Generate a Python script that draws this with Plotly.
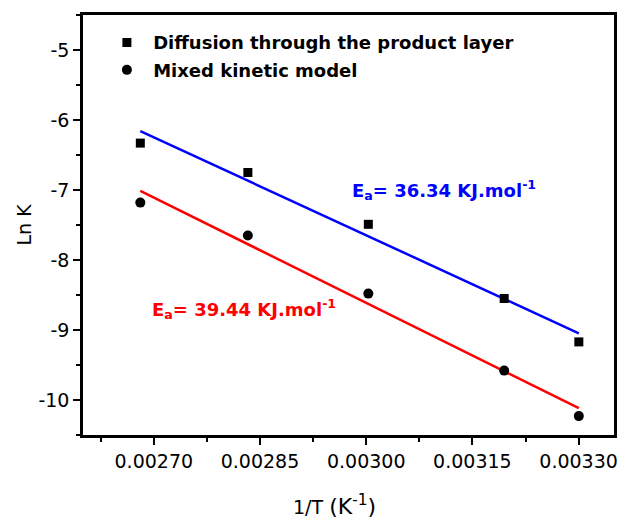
import numpy as np
import plotly.graph_objects as go

# Data
inv_T = [1/373, 1/353, 1/333, 1/313, 1/303]
lnk_diffusion = [-6.33, -6.75, -7.49, -8.55, -9.17]
lnk_mixed = [-7.18, -7.65, -8.48, -9.58, -10.23]
series_names = ["Diffusion through the product layer", "Mixed kinetic model"]
ea_labels = ["E<sub>a</sub>= 36.34 KJ.mol<sup>-1</sup>", "E<sub>a</sub>= 39.44 KJ.mol<sup>-1</sup>"]
x_ticks = [0.00270, 0.00285, 0.00300, 0.00315, 0.00330]
x_ticklabels = ["0.00270", "0.00285", "0.00300", "0.00315", "0.00330"]
y_ticks = [-5, -6, -7, -8, -9, -10]
y_ticklabels = ["-5", "-6", "-7", "-8", "-9", "-10"]

x_arr = np.array(inv_T)
fit_d = np.polyfit(x_arr, lnk_diffusion, 1)
fit_m = np.polyfit(x_arr, lnk_mixed, 1)
fx = np.array([x_arr.min(), x_arr.max()])

FONT = "DejaVu Sans"
fig = go.Figure()
fig.add_trace(go.Scatter(x=fx, y=np.polyval(fit_d, fx), mode="lines",
                         line=dict(color="#0000ff", width=2.5), showlegend=False, hoverinfo="skip"))
fig.add_trace(go.Scatter(x=fx, y=np.polyval(fit_m, fx), mode="lines",
                         line=dict(color="#ff0000", width=2.5), showlegend=False, hoverinfo="skip"))
fig.add_trace(go.Scatter(x=inv_T, y=lnk_diffusion, mode="markers", name="\u00a0" + series_names[0],
                         legendgroup="a",
                         marker=dict(symbol="square", size=9, color="black")))
fig.add_trace(go.Scatter(x=inv_T, y=lnk_mixed, mode="markers", name="\u00a0" + series_names[1],
                         legendgroup="b",
                         marker=dict(symbol="circle", size=10, color="black")))

fig.add_annotation(x=0.002977, y=-7.0, xref="x", yref="y", text="<b>" + ea_labels[0] + "</b>",
                   showarrow=False, xanchor="left", yanchor="middle",
                   font=dict(family=FONT, size=18, color="#0000ff"))
fig.add_annotation(x=0.002695, y=-8.70, xref="x", yref="y", text="<b>" + ea_labels[1] + "</b>",
                   showarrow=False, xanchor="left", yanchor="middle",
                   font=dict(family=FONT, size=18, color="#ff0000"))

fig.add_annotation(x=0.473, y=-0.166, xref="paper", yref="paper",
                   text="1/T <span style='font-size:22px'>(K<sup>-1</sup>)</span>",
                   showarrow=False, xanchor="center", yanchor="middle",
                   font=dict(family=FONT, size=19, color="black"))
fig.add_annotation(x=-0.112, y=0.5, xref="paper", yref="paper", text="Ln K", textangle=-90,
                   showarrow=False, xanchor="center", yanchor="middle",
                   font=dict(family=FONT, size=19, color="black"))

axis_common = dict(showline=True, linecolor="black", linewidth=2.5, mirror=True,
                   showgrid=False, zeroline=False, ticks="outside", ticklen=7, tickwidth=2,
                   tickcolor="black", tickfont=dict(family=FONT, size=19, color="black"))
fig.update_xaxes(range=[0.0026, 0.00335], tickvals=x_ticks, ticktext=x_ticklabels,
                 minor=dict(tickvals=[0.002625, 0.002775, 0.002925, 0.003075, 0.003225],
                            ticks="outside", ticklen=4, tickwidth=2, tickcolor="black"),
                 **axis_common)
fig.update_yaxes(range=[-10.5, -4.5], tickvals=y_ticks, ticktext=y_ticklabels,
                 minor=dict(dtick=0.5, tick0=-4.5, ticks="outside", ticklen=4, tickwidth=2,
                            tickcolor="black"),
                 **axis_common)

fig.update_layout(width=626, height=522, margin=dict(l=83, r=8, t=15, b=87),
                  plot_bgcolor="white", paper_bgcolor="white",
                  legend=dict(x=0.045, y=0.978, xanchor="left", yanchor="top",
                              bgcolor="rgba(0,0,0,0)", tracegroupgap=1,
                              font=dict(family=FONT, size=18, color="black", weight="bold")))
fig.write_html("out.html")
